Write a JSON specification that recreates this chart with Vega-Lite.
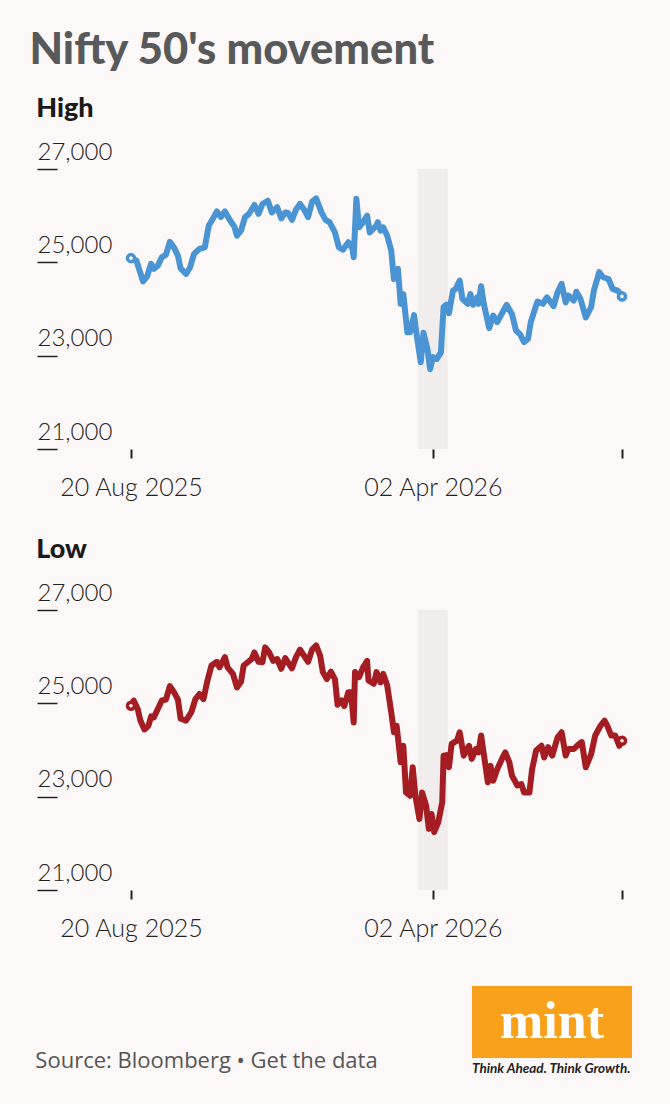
{
  "$schema": "https://vega.github.io/schema/vega-lite/v6.json",
  "background": "#fdf8f8",
  "padding": {"left": 29, "top": 28, "right": 38, "bottom": 0},
  "title": {
    "text": "Nifty 50's movement",
    "anchor": "start",
    "frame": "bounds",
    "dx": -3,
    "offset": 22,
    "font": "Lato",
    "fontSize": 43.5,
    "fontWeight": 900,
    "color": "#58595b"
  },
  "datasets": {
    "band": [{"start": "2026-03-22", "end": "2026-04-13"}],
    "high": [
      {"date": "2025-08-20", "value": 25090}, {"date": "2025-08-24", "value": 25040}, {"date": "2025-08-26", "value": 24860},
      {"date": "2025-08-29", "value": 24590}, {"date": "2025-09-01", "value": 24700}, {"date": "2025-09-04", "value": 24970},
      {"date": "2025-09-06", "value": 24860}, {"date": "2025-09-09", "value": 24930}, {"date": "2025-09-12", "value": 25110},
      {"date": "2025-09-15", "value": 25160}, {"date": "2025-09-18", "value": 25440}, {"date": "2025-09-21", "value": 25320},
      {"date": "2025-09-24", "value": 25140}, {"date": "2025-09-26", "value": 24870}, {"date": "2025-09-30", "value": 24750},
      {"date": "2025-10-03", "value": 24890}, {"date": "2025-10-06", "value": 25180}, {"date": "2025-10-10", "value": 25290},
      {"date": "2025-10-14", "value": 25320}, {"date": "2025-10-17", "value": 25790}, {"date": "2025-10-20", "value": 25930},
      {"date": "2025-10-23", "value": 26090}, {"date": "2025-10-26", "value": 25970}, {"date": "2025-10-29", "value": 26090},
      {"date": "2025-11-02", "value": 25890}, {"date": "2025-11-05", "value": 25770}, {"date": "2025-11-07", "value": 25570},
      {"date": "2025-11-10", "value": 25680}, {"date": "2025-11-13", "value": 25970}, {"date": "2025-11-16", "value": 26040},
      {"date": "2025-11-20", "value": 26230}, {"date": "2025-11-23", "value": 26040}, {"date": "2025-11-26", "value": 26250},
      {"date": "2025-11-30", "value": 26320}, {"date": "2025-12-03", "value": 26070}, {"date": "2025-12-07", "value": 26180},
      {"date": "2025-12-10", "value": 25940}, {"date": "2025-12-13", "value": 26070}, {"date": "2025-12-15", "value": 26060},
      {"date": "2025-12-18", "value": 25910}, {"date": "2025-12-21", "value": 26130}, {"date": "2025-12-24", "value": 26250},
      {"date": "2025-12-27", "value": 26130}, {"date": "2025-12-30", "value": 25970}, {"date": "2026-01-02", "value": 26300},
      {"date": "2026-01-05", "value": 26370}, {"date": "2026-01-09", "value": 26070}, {"date": "2026-01-12", "value": 25910},
      {"date": "2026-01-15", "value": 25860}, {"date": "2026-01-19", "value": 25640}, {"date": "2026-01-22", "value": 25320},
      {"date": "2026-01-25", "value": 25270}, {"date": "2026-01-29", "value": 25430}, {"date": "2026-02-01", "value": 25290},
      {"date": "2026-02-02", "value": 25110}, {"date": "2026-02-04", "value": 26360}, {"date": "2026-02-06", "value": 25750},
      {"date": "2026-02-09", "value": 25860}, {"date": "2026-02-12", "value": 26000}, {"date": "2026-02-14", "value": 25640},
      {"date": "2026-02-19", "value": 25790}, {"date": "2026-02-20", "value": 25860}, {"date": "2026-02-22", "value": 25680},
      {"date": "2026-02-24", "value": 25750}, {"date": "2026-02-27", "value": 25570}, {"date": "2026-03-02", "value": 25250},
      {"date": "2026-03-04", "value": 24640}, {"date": "2026-03-07", "value": 24860}, {"date": "2026-03-09", "value": 24110},
      {"date": "2026-03-11", "value": 24320}, {"date": "2026-03-14", "value": 23500}, {"date": "2026-03-16", "value": 23500},
      {"date": "2026-03-19", "value": 23870}, {"date": "2026-03-21", "value": 23430}, {"date": "2026-03-24", "value": 22860},
      {"date": "2026-03-26", "value": 23490}, {"date": "2026-03-29", "value": 23140}, {"date": "2026-03-31", "value": 22710},
      {"date": "2026-04-02", "value": 22970}, {"date": "2026-04-05", "value": 22930}, {"date": "2026-04-08", "value": 23070},
      {"date": "2026-04-10", "value": 24040}, {"date": "2026-04-12", "value": 24090}, {"date": "2026-04-14", "value": 23910},
      {"date": "2026-04-17", "value": 24390}, {"date": "2026-04-19", "value": 24430}, {"date": "2026-04-22", "value": 24610},
      {"date": "2026-04-24", "value": 24220}, {"date": "2026-04-28", "value": 24110}, {"date": "2026-04-30", "value": 24320},
      {"date": "2026-05-02", "value": 24090}, {"date": "2026-05-05", "value": 24250}, {"date": "2026-05-06", "value": 24110},
      {"date": "2026-05-08", "value": 24490}, {"date": "2026-05-10", "value": 24110}, {"date": "2026-05-14", "value": 23590},
      {"date": "2026-05-17", "value": 23860}, {"date": "2026-05-20", "value": 23720}, {"date": "2026-05-24", "value": 23930},
      {"date": "2026-05-27", "value": 24090}, {"date": "2026-05-31", "value": 23890}, {"date": "2026-06-03", "value": 23540},
      {"date": "2026-06-06", "value": 23460}, {"date": "2026-06-09", "value": 23290}, {"date": "2026-06-12", "value": 23360},
      {"date": "2026-06-14", "value": 23720}, {"date": "2026-06-17", "value": 23990}, {"date": "2026-06-19", "value": 24160},
      {"date": "2026-06-23", "value": 24110}, {"date": "2026-06-26", "value": 24250}, {"date": "2026-06-29", "value": 24140},
      {"date": "2026-07-01", "value": 24060}, {"date": "2026-07-04", "value": 24360}, {"date": "2026-07-07", "value": 24540},
      {"date": "2026-07-10", "value": 24140}, {"date": "2026-07-12", "value": 24290}, {"date": "2026-07-16", "value": 24180},
      {"date": "2026-07-18", "value": 24370}, {"date": "2026-07-21", "value": 24220}, {"date": "2026-07-25", "value": 23820},
      {"date": "2026-07-29", "value": 24040}, {"date": "2026-07-31", "value": 24390}, {"date": "2026-08-04", "value": 24790},
      {"date": "2026-08-07", "value": 24680}, {"date": "2026-08-11", "value": 24640}, {"date": "2026-08-14", "value": 24430},
      {"date": "2026-08-18", "value": 24390}, {"date": "2026-08-21", "value": 24270}
    ],
    "low": [
      {"date": "2025-08-20", "value": 24950}, {"date": "2025-08-22", "value": 25060}, {"date": "2025-08-25", "value": 24880},
      {"date": "2025-08-27", "value": 24630}, {"date": "2025-08-30", "value": 24440}, {"date": "2025-09-02", "value": 24520},
      {"date": "2025-09-04", "value": 24720}, {"date": "2025-09-06", "value": 24700}, {"date": "2025-09-09", "value": 24880},
      {"date": "2025-09-12", "value": 25060}, {"date": "2025-09-15", "value": 25080}, {"date": "2025-09-18", "value": 25370},
      {"date": "2025-09-21", "value": 25240}, {"date": "2025-09-24", "value": 25080}, {"date": "2025-09-26", "value": 24670},
      {"date": "2025-09-30", "value": 24630}, {"date": "2025-10-04", "value": 24810}, {"date": "2025-10-07", "value": 25090},
      {"date": "2025-10-10", "value": 25200}, {"date": "2025-10-13", "value": 25090}, {"date": "2025-10-16", "value": 25490},
      {"date": "2025-10-19", "value": 25810}, {"date": "2025-10-23", "value": 25890}, {"date": "2025-10-25", "value": 25770},
      {"date": "2025-10-29", "value": 25990}, {"date": "2025-10-31", "value": 25770}, {"date": "2025-11-04", "value": 25630},
      {"date": "2025-11-07", "value": 25340}, {"date": "2025-11-10", "value": 25460}, {"date": "2025-11-12", "value": 25810},
      {"date": "2025-11-15", "value": 25880}, {"date": "2025-11-18", "value": 25950}, {"date": "2025-11-20", "value": 26090},
      {"date": "2025-11-23", "value": 25890}, {"date": "2025-11-26", "value": 25880}, {"date": "2025-11-28", "value": 26200},
      {"date": "2025-12-01", "value": 26090}, {"date": "2025-12-04", "value": 25910}, {"date": "2025-12-07", "value": 25950},
      {"date": "2025-12-10", "value": 25740}, {"date": "2025-12-13", "value": 25970}, {"date": "2025-12-15", "value": 25880},
      {"date": "2025-12-18", "value": 25750}, {"date": "2025-12-21", "value": 25990}, {"date": "2025-12-24", "value": 26150},
      {"date": "2025-12-27", "value": 26020}, {"date": "2025-12-30", "value": 25890}, {"date": "2026-01-02", "value": 26150},
      {"date": "2026-01-05", "value": 26240}, {"date": "2026-01-08", "value": 26020}, {"date": "2026-01-10", "value": 25670},
      {"date": "2026-01-13", "value": 25520}, {"date": "2026-01-16", "value": 25680}, {"date": "2026-01-19", "value": 25520},
      {"date": "2026-01-21", "value": 24970}, {"date": "2026-01-24", "value": 25060}, {"date": "2026-01-26", "value": 24940},
      {"date": "2026-01-29", "value": 25240}, {"date": "2026-01-31", "value": 25240}, {"date": "2026-02-02", "value": 24590},
      {"date": "2026-02-03", "value": 25670}, {"date": "2026-02-06", "value": 25560}, {"date": "2026-02-09", "value": 25770},
      {"date": "2026-02-12", "value": 25910}, {"date": "2026-02-13", "value": 25490}, {"date": "2026-02-17", "value": 25420},
      {"date": "2026-02-19", "value": 25670}, {"date": "2026-02-20", "value": 25590}, {"date": "2026-02-22", "value": 25450},
      {"date": "2026-02-24", "value": 25630}, {"date": "2026-02-27", "value": 25380}, {"date": "2026-03-02", "value": 24810},
      {"date": "2026-03-04", "value": 24380}, {"date": "2026-03-06", "value": 24520}, {"date": "2026-03-09", "value": 23740},
      {"date": "2026-03-11", "value": 24090}, {"date": "2026-03-13", "value": 23090}, {"date": "2026-03-16", "value": 23020},
      {"date": "2026-03-18", "value": 23630}, {"date": "2026-03-20", "value": 23020}, {"date": "2026-03-23", "value": 22520},
      {"date": "2026-03-25", "value": 23090}, {"date": "2026-03-28", "value": 22810}, {"date": "2026-03-30", "value": 22310},
      {"date": "2026-04-01", "value": 22630}, {"date": "2026-04-03", "value": 22240}, {"date": "2026-04-06", "value": 22450},
      {"date": "2026-04-09", "value": 22880}, {"date": "2026-04-10", "value": 23880}, {"date": "2026-04-12", "value": 23890},
      {"date": "2026-04-14", "value": 23630}, {"date": "2026-04-16", "value": 24130}, {"date": "2026-04-20", "value": 24200},
      {"date": "2026-04-22", "value": 24380}, {"date": "2026-04-25", "value": 23880}, {"date": "2026-04-29", "value": 24090},
      {"date": "2026-05-01", "value": 23810}, {"date": "2026-05-04", "value": 24020}, {"date": "2026-05-06", "value": 23950},
      {"date": "2026-05-08", "value": 24310}, {"date": "2026-05-10", "value": 23910}, {"date": "2026-05-13", "value": 23310},
      {"date": "2026-05-15", "value": 23660}, {"date": "2026-05-17", "value": 23340}, {"date": "2026-05-20", "value": 23590},
      {"date": "2026-05-24", "value": 23840}, {"date": "2026-05-26", "value": 23950}, {"date": "2026-05-29", "value": 23740},
      {"date": "2026-05-31", "value": 23450}, {"date": "2026-06-04", "value": 23240}, {"date": "2026-06-07", "value": 23270},
      {"date": "2026-06-09", "value": 23090}, {"date": "2026-06-13", "value": 23090}, {"date": "2026-06-15", "value": 23590},
      {"date": "2026-06-18", "value": 23990}, {"date": "2026-06-22", "value": 24090}, {"date": "2026-06-24", "value": 23840},
      {"date": "2026-06-27", "value": 24060}, {"date": "2026-06-30", "value": 23880}, {"date": "2026-07-04", "value": 24270},
      {"date": "2026-07-07", "value": 24380}, {"date": "2026-07-10", "value": 23880}, {"date": "2026-07-12", "value": 24020},
      {"date": "2026-07-16", "value": 24020}, {"date": "2026-07-20", "value": 24130}, {"date": "2026-07-22", "value": 24170},
      {"date": "2026-07-25", "value": 23630}, {"date": "2026-07-29", "value": 23910}, {"date": "2026-08-01", "value": 24310},
      {"date": "2026-08-05", "value": 24520}, {"date": "2026-08-08", "value": 24630}, {"date": "2026-08-10", "value": 24520},
      {"date": "2026-08-13", "value": 24310}, {"date": "2026-08-16", "value": 24310}, {"date": "2026-08-19", "value": 24090},
      {"date": "2026-08-21", "value": 24200}
    ]
  },
  "spacing": 45,
  "vconcat": [
    {
      "spacing": 36,
      "vconcat": [
        {
          "title": {"text": "High"},
          "width": 491,
          "height": 280,
          "layer": [
            {
              "data": {"name": "band"},
              "mark": {"type": "rect", "color": "#f1eded"},
              "encoding": {
                "x": {
                  "field": "start",
                  "type": "temporal",
                  "scale": {"type": "utc", "domain": [{"year": 2025, "month": 8, "date": 20, "utc": true}, {"year": 2026, "month": 8, "date": 21, "utc": true}]},
                  "axis": {"values": [{"year": 2025, "month": 8, "date": 20, "utc": true}, {"year": 2026, "month": 4, "date": 2, "utc": true}, {"year": 2026, "month": 8, "date": 21, "utc": true}]}
                },
                "x2": {"field": "end"}
              }
            },
            {
              "data": {"name": "high"},
              "mark": {"type": "line", "color": "#4b94d3", "strokeWidth": 6, "strokeCap": "round", "strokeJoin": "round"},
              "encoding": {
                "x": {"field": "date", "type": "temporal"},
                "y": {
                  "field": "value",
                  "type": "quantitative",
                  "scale": {"domain": [21000, 27000], "zero": false},
                  "axis": {"values": [21000, 23000, 25000, 27000], "format": ",.0f"}
                }
              }
            },
            {
              "data": {"name": "high"},
              "transform": [
                {"window": [{"op": "row_number", "as": "rn"}]},
                {"joinaggregate": [{"op": "count", "as": "n"}]},
                {"filter": "datum.rn == 1 || datum.rn == datum.n"}
              ],
              "mark": {"type": "point", "shape": "circle", "size": 50, "fill": "#fdf8f8", "stroke": "#4b94d3", "strokeWidth": 3.5, "opacity": 1},
              "encoding": {
                "x": {"field": "date", "type": "temporal"},
                "y": {"field": "value", "type": "quantitative"}
              }
            }
          ]
        },
        {
          "title": {"text": "Low"},
          "width": 491,
          "height": 280,
          "layer": [
            {
              "data": {"name": "band"},
              "mark": {"type": "rect", "color": "#f1eded"},
              "encoding": {
                "x": {
                  "field": "start",
                  "type": "temporal",
                  "scale": {"type": "utc", "domain": [{"year": 2025, "month": 8, "date": 20, "utc": true}, {"year": 2026, "month": 8, "date": 21, "utc": true}]},
                  "axis": {"values": [{"year": 2025, "month": 8, "date": 20, "utc": true}, {"year": 2026, "month": 4, "date": 2, "utc": true}, {"year": 2026, "month": 8, "date": 21, "utc": true}]}
                },
                "x2": {"field": "end"}
              }
            },
            {
              "data": {"name": "low"},
              "mark": {"type": "line", "color": "#a31d23", "strokeWidth": 6, "strokeCap": "round", "strokeJoin": "round"},
              "encoding": {
                "x": {"field": "date", "type": "temporal"},
                "y": {
                  "field": "value",
                  "type": "quantitative",
                  "scale": {"domain": [21000, 27000], "zero": false},
                  "axis": {"values": [21000, 23000, 25000, 27000], "format": ",.0f"}
                }
              }
            },
            {
              "data": {"name": "low"},
              "transform": [
                {"window": [{"op": "row_number", "as": "rn"}]},
                {"joinaggregate": [{"op": "count", "as": "n"}]},
                {"filter": "datum.rn == 1 || datum.rn == datum.n"}
              ],
              "mark": {"type": "point", "shape": "circle", "size": 50, "fill": "#fdf8f8", "stroke": "#a31d23", "strokeWidth": 3.5, "opacity": 1},
              "encoding": {
                "x": {"field": "date", "type": "temporal"},
                "y": {"field": "value", "type": "quantitative"}
              }
            }
          ]
        }
      ]
    },
    {
      "spacing": 91,
      "hconcat": [
        {
          "width": 151,
          "height": 150,
          "data": {"values": [{"note": "Source: Bloomberg  \u2022 Get the data"}]},
          "mark": {"type": "text", "font": "Open Sans", "fontSize": 22, "color": "#555555", "align": "center", "baseline": "middle"},
          "encoding": {"text": {"field": "note"}}
        },
        {
          "width": 160,
          "height": 72,
          "view": {"fill": "#f9a11b", "stroke": null},
          "title": {
            "text": "Think Ahead. Think Growth.",
            "orient": "bottom",
            "anchor": "start",
            "frame": "group",
            "offset": 4,
            "font": "Lato",
            "fontSize": 13.5,
            "fontStyle": "italic",
            "fontWeight": 700,
            "color": "#222222"
          },
          "data": {"values": [{"brand": "mint"}]},
          "mark": {"type": "text", "font": "Liberation Serif", "fontWeight": "bold", "fontSize": 52, "color": "#ffffff", "align": "center", "baseline": "middle"},
          "encoding": {"text": {"field": "brand"}}
        }
      ]
    }
  ],
  "config": {
    "font": "Lato",
    "view": {"stroke": null},
    "title": {
      "anchor": "start",
      "frame": "bounds",
      "font": "Lato",
      "fontSize": 27,
      "fontWeight": 900,
      "color": "#1a1a1a",
      "offset": 17
    },
    "axis": {
      "grid": false,
      "domain": false,
      "title": null,
      "labelColor": "#222222",
      "labelFont": "Lato",
      "labelFontWeight": 300,
      "labelFlush": false,
      "labelOverlap": false,
      "labelBound": false,
      "tickColor": "#222222"
    },
    "axisX": {
      "tickSize": 9,
      "tickWidth": 2,
      "labelFontSize": 25,
      "labelPadding": 17,
      "labelExpr": "datum.index == 1 ? '' : utcFormat(datum.value, '%d %b %Y')"
    },
    "axisY": {
      "offset": 74,
      "tickSize": 20,
      "tickWidth": 1.5,
      "labelFontSize": 24,
      "labelAlign": "left",
      "labelBaseline": "alphabetic",
      "labelPadding": 0,
      "labelOffset": -10
    }
  }
}
